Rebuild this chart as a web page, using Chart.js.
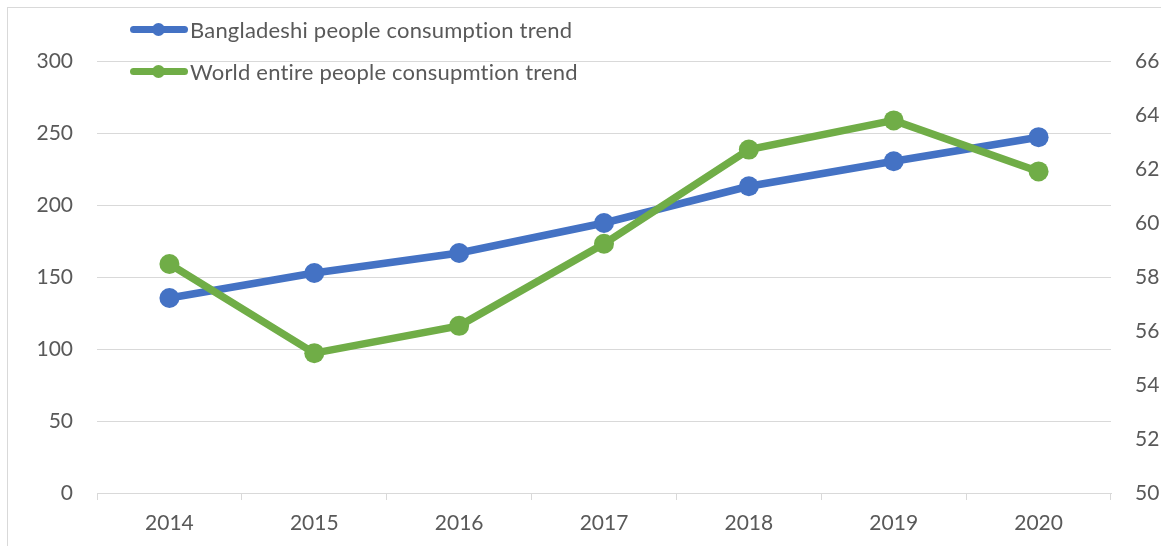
<!DOCTYPE html>
<html>
<head>
<meta charset="utf-8">
<script src="https://cdn.jsdelivr.net/npm/chart.js@4"></script>
<style>
  html, body { margin: 0; padding: 0; background: #fff; overflow: hidden; }
  #wrap { position: relative; width: 1161px; height: 546px; }
  #frame { position: absolute; left: 7px; top: 7px; width: 1200px; height: 600px; border: 1px solid #d9d9d9; box-sizing: border-box; }
  #chart { position: absolute; left: 0; top: 0; }
  .legend-row { position: absolute; left: 130px; height: 26px; display: flex; align-items: center;
    font-family: Lato, sans-serif; font-size: 22px; letter-spacing: 0.2px; color: #595959; white-space: nowrap; }
  .legend-mark { position: relative; width: 58px; height: 7px; border-radius: 4px; margin-right: 2px; }
  .legend-mark::after { content: ''; position: absolute; left: 22px; top: -3px; width: 13px; height: 13px; border-radius: 50%; background: inherit; }
</style>
</head>
<body>
<div id="wrap">
  <div id="frame"></div>
  <canvas id="chart" width="1161" height="546"></canvas>
  <div class="legend-row" id="leg0" style="top:16px"><span class="legend-mark"></span><span class="legend-text"></span></div>
  <div class="legend-row" id="leg1" style="top:58px"><span class="legend-mark"></span><span class="legend-text"></span></div>
</div>
<script>
const YEARS = ['2014', '2015', '2016', '2017', '2018', '2019', '2020'];
const SERIES_NAMES = ['Bangladeshi people consumption trend', 'World entire people consupmtion trend'];
const BANGLADESH = [135.4, 152.8, 166.7, 187.5, 213, 230.4, 247.1];
const WORLD = [58.48, 55.18, 56.19, 59.23, 62.72, 63.8, 61.91];
const LEFT_TICKS = [0, 300, 50];   // min, max, step
const RIGHT_TICKS = [50, 66, 2];
const COLORS = ['#4472C4', '#70AD47'];

const tickFont = { family: 'Lato', size: 21 };
const textColor = '#595959';
const gridColor = '#d9d9d9';

[0, 1].forEach((i) => {
  const row = document.getElementById('leg' + i);
  row.querySelector('.legend-mark').style.background = COLORS[i];
  row.querySelector('.legend-text').textContent = SERIES_NAMES[i];
});

const lineStyle = (color) => ({
  borderColor: color,
  backgroundColor: color,
  borderWidth: 7.5,
  pointRadius: 10,
  pointBackgroundColor: color,
  pointBorderWidth: 0,
  tension: 0,
  fill: false,
});

new Chart(document.getElementById('chart'), {
  type: 'line',
  data: {
    labels: YEARS,
    datasets: [
      { label: SERIES_NAMES[0], data: BANGLADESH, yAxisID: 'y', order: 1, ...lineStyle(COLORS[0]) },
      { label: SERIES_NAMES[1], data: WORLD, yAxisID: 'y1', order: 0, ...lineStyle(COLORS[1]) },
    ],
  },
  options: {
    responsive: false,
    animation: false,
    layout: { padding: { top: 61, left: 0, right: 0, bottom: 0 } },
    plugins: { legend: { display: false }, tooltip: { enabled: false } },
    scales: {
      x: {
        offset: true,
        grid: { offset: true, drawOnChartArea: false, drawTicks: true, tickLength: 7, color: gridColor },
        border: { color: gridColor },
        ticks: { color: textColor, font: tickFont, padding: 11, maxRotation: 0 },
        afterFit: (s) => { s.height = 53; },
      },
      y: {
        position: 'left',
        min: LEFT_TICKS[0], max: LEFT_TICKS[1],
        ticks: { stepSize: LEFT_TICKS[2], color: textColor, font: tickFont, padding: 24 },
        grid: { color: gridColor, drawTicks: false },
        border: { display: false },
        afterFit: (s) => { s.width = 97; },
      },
      y1: {
        position: 'right',
        min: RIGHT_TICKS[0], max: RIGHT_TICKS[1],
        ticks: { stepSize: RIGHT_TICKS[2], color: textColor, font: tickFont, padding: 24 },
        grid: { drawOnChartArea: false, drawTicks: false },
        border: { display: false },
        afterFit: (s) => { s.width = 50; },
      },
    },
  },
});
</script>
</body>
</html>
